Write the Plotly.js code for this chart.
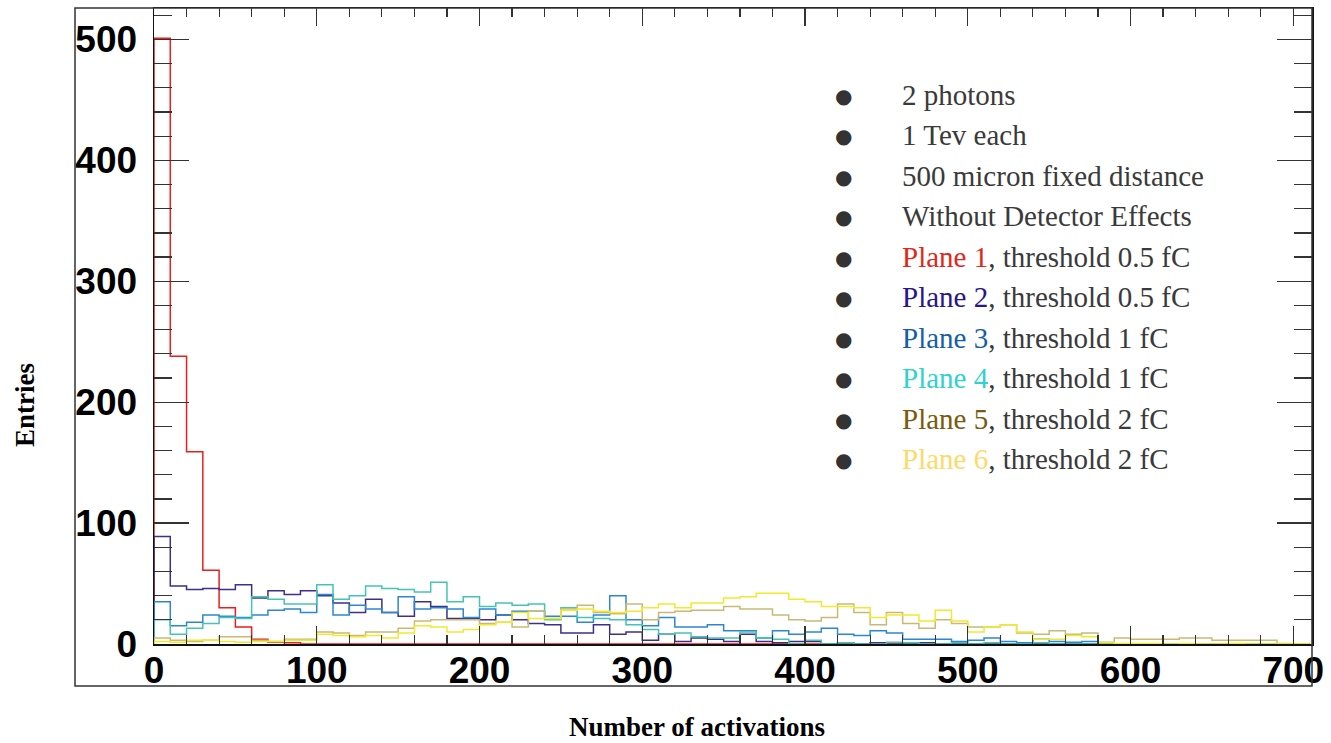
<!DOCTYPE html>
<html><head><meta charset="utf-8">
<script src="https://cdn.plot.ly/plotly-3.0.1.min.js"></script>
<style>html,body{margin:0;padding:0;background:#fff}#chart{width:1331px;height:743px}</style>
</head><body><div id="chart"></div>
<script>
// ---- data (entries per 10-wide bin, starting at 0) ----
const binWidth = 10;
const plane1 = [501,238,159,61,30,14,4,1.5,1,0,
  0,0,0,0,0,0,0,0,0,0,
  0,0,0,0,0,0,0,0,0,0,
  0,0,0,0,0,0,0,0,0,0,
  0,0,0,0,0,0,0,0,0,0,
  0,0,0,0,0,0,0,0,0,0,
  0,0,0,0,0,0,0,0,0,0,
  0];
const plane2 = [89,48,45,46,45,49,38,44,41,44,
  40,34,26,37,26,23,35,31,21,21,
  20,24,20,17,16,9,9,16,8,10,
  3,8,2,5,4,2,8,2,1,2,
  2,0,1,0,1,1,0,1,0,0,
  0,0,0,0,0,0,0,0,0,0,
  0,0,0,0,0,0,0,0,0,0,
  0];
const plane3 = [35,15,18,24,23,22,24,28,29,26,
  41,24,32,29,26,39,29,30,29,22,
  29,24,27,27,23,23,18,24,40,20,
  15,22,14,14,16,11,11,5,11,8,
  10,13,8,7,11,9,4,4,4,2,
  3,5,2,1,4,2,1.5,2,0,0,
  0,0,0,0,0,0,0,0,0,0,
  0];
const plane4 = [20,8,13,17,22,21,39,37,33,33,
  49,37,40,48,46,45,43,51,35,39,
  31,34,32,33,20,30,22,21,20,16,
  12,8,9,6,5,5,10,5,4,0,
  3,0,1,0,0,1.5,1,0,0,1,
  0,1,0,0,1,0,0,0,0,0,
  0,0,0,0,0,0,0,0,0,0,
  0];
const plane5 = [5,3,2,3,6,6,3,2,4,4,
  10,9,7,10,10,13,19,20,20,20,
  17,18,14,27,21,29,32,26,25,33,
  20,26,27,28,28,31,29,29,24,20,
  19,22,33,26,16,26,17,13,20,17,
  14,14,16,9,8,11,8,9,1.5,5,
  4,4,4,5,5,3,3,3,3,0.5,
  0];
const plane6 = [2,1.5,3,3,2,1.5,2,2,3,3,
  8,7,6,7,5,9,15,14,10,12,
  16,18,26,21,21,28,29,27,26,27,
  30,33,30,34,34,38,39,42,42,37,
  35,31,31,30,22,24,24,19,28,19,
  10,14,16,10,4,4,7,6,1,0.5,
  0.5,0.5,0,0.5,0,0,0.5,0,0,0,
  0];
const seriesNames = ['Plane 1','Plane 2','Plane 3','Plane 4','Plane 5','Plane 6'];
const thresholds = ['0.5 fC','0.5 fC','1 fC','1 fC','2 fC','2 fC'];
const infoLines = ['2 photons','1 Tev each','500 micron fixed distance','Without Detector Effects'];
const xTitle = 'Number of activations';
const yTitle = 'Entries';
const xTicks = [0,100,200,300,400,500,600,700];
const yTicks = [0,100,200,300,400,500];

// ---- styles ----
const series = [plane1, plane2, plane3, plane4, plane5, plane6];
const lineColors = ['#ee1d1d','#3d2f8a','#2b88d0','#45c3b3','#c9b975','#f1ea2c'];
const textColors = ['#e0281a','#2a1688','#155fa6','#2fd2cc','#7c5a0c','#ffd966'];

// plot-area pixel box
const L = 154, R = 1312, T = 8, B = 644;
const px = v => (v - L) / (R - L);
const py = v => (B - v) / (B - T);

function stepXY(vals) {
  const x = [0], y = [0];
  vals.forEach((v, i) => { x.push(i * binWidth); y.push(v); });
  x.push(vals.length * binWidth); y.push(vals[vals.length - 1]);
  x.push(vals.length * binWidth); y.push(0);
  return {x, y};
}

const traces = series.map((vals, i) => {
  const s = stepXY(vals);
  return {type: 'scatter', mode: 'lines', x: s.x, y: s.y, name: seriesNames[i],
    line: {shape: 'hv', color: lineColors[i], width: 1.5}, hoverinfo: 'skip'};
});

const tickFont = {family: 'Liberation Sans, Arial, sans-serif', size: 37, color: '#000', weight: 'bold'};
const titleFont = {family: 'Liberation Serif, Times New Roman, serif', size: 27, color: '#000', weight: 'bold'};
const legFont = {family: 'Liberation Serif, Times New Roman, serif', size: 29, color: '#3a3a3a'};

const annotations = [];
const allLines = infoLines.concat(seriesNames.map((n, i) =>
  '<span style="color:' + textColors[i] + '">' + n + '</span>, threshold ' + thresholds[i]));
allLines.forEach((t, i) => {
  const yc = 96 + 40.44 * i;
  annotations.push({xref: 'paper', yref: 'paper', x: px(843), y: py(yc), xanchor: 'center', yanchor: 'middle',
    text: '\u25CF', showarrow: false, font: {family: 'DejaVu Sans', size: 20, color: '#333'}});
  annotations.push({xref: 'paper', yref: 'paper', x: px(900), y: py(yc - 1), xanchor: 'left', yanchor: 'middle',
    text: t, showarrow: false, font: legFont});
});
annotations.push({xref: 'paper', yref: 'paper', x: px(697), y: py(727), xanchor: 'center', yanchor: 'middle',
  text: xTitle, showarrow: false, font: titleFont});
annotations.push({xref: 'paper', yref: 'paper', x: px(25), y: py(405), xanchor: 'center', yanchor: 'middle',
  text: yTitle, textangle: -90, showarrow: false, font: titleFont});

const layout = {
  width: 1331, height: 743,
  margin: {l: L, r: 1331 - R, t: T, b: 743 - B, pad: 0},
  paper_bgcolor: '#fff', plot_bgcolor: '#fff',
  showlegend: false,
  xaxis: {range: [0, 711.5], tickmode: 'array', tickvals: xTicks, ticktext: xTicks.map(String),
    showline: true, linecolor: '#111', linewidth: 1.5, mirror: 'ticks',
    ticks: 'inside', ticklen: 18, tickwidth: 1.2, tickcolor: '#333',
    minor: {dtick: 20, tick0: 0, ticks: 'inside', ticklen: 9, tickwidth: 1.2, tickcolor: '#333'},
    ticklabelstandoff: -7,
    showgrid: false, zeroline: false, tickfont: tickFont, fixedrange: true},
  yaxis: {range: [0, 526], tickmode: 'array', tickvals: yTicks, ticktext: yTicks.map(String),
    showline: true, linecolor: '#111', linewidth: 1.5, mirror: 'ticks',
    ticks: 'inside', ticklen: 35, tickwidth: 1.2, tickcolor: '#333',
    minor: {dtick: 20, tick0: 0, ticks: 'inside', ticklen: 18, tickwidth: 1.2, tickcolor: '#333'},
    ticklabelstandoff: 8,
    showgrid: false, zeroline: false, tickfont: tickFont, fixedrange: true},
  shapes: [{type: 'rect', xref: 'paper', yref: 'paper', x0: px(75), x1: px(1312), y0: py(686), y1: py(8),
    line: {color: '#333', width: 1.5}, fillcolor: 'rgba(0,0,0,0)', layer: 'above'}],
  annotations: annotations
};

Plotly.newPlot('chart', traces, layout, {displayModeBar: false, staticPlot: true});
</script></body></html>
